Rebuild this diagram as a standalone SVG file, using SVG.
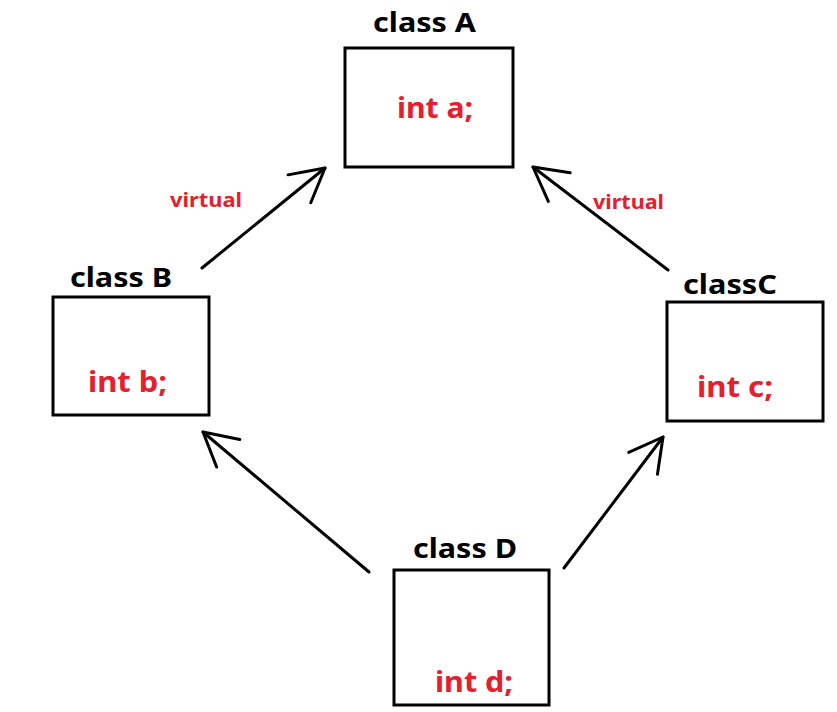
<svg xmlns="http://www.w3.org/2000/svg" width="837" height="712" viewBox="0 0 837 712">
<style>
.box{fill:#fff;stroke:#000;stroke-width:3}
.title{font-family:"Noto Sans","Liberation Sans",sans-serif;font-weight:bold;font-size:27px;fill:#000}
.mem{font-family:"Noto Sans","Liberation Sans",sans-serif;font-weight:bold;font-size:28px;fill:#e5202e}
.lbl{font-family:"Noto Sans","Liberation Sans",sans-serif;font-weight:bold;font-size:20px;fill:#e5202e}
.edge{fill:none;stroke:#000;stroke-width:3;stroke-linecap:round}
</style>
<defs>
<marker id="arr" markerUnits="userSpaceOnUse" markerWidth="80" markerHeight="80" viewBox="-40 -40 80 80" refX="0" refY="0" orient="auto" overflow="visible">
<path d="M-33,-18 L0,0 L-33,18" fill="none" stroke="#000" stroke-width="3" stroke-linecap="round" stroke-linejoin="round"/>
</marker>
</defs>
<rect width="837" height="712" fill="#fff"/>
<g id="connectors">
<line class="edge" x1="202" y1="268" x2="325" y2="168" marker-end="url(#arr)"/>
<line class="edge" x1="668" y1="270" x2="533" y2="167" marker-end="url(#arr)"/>
<line class="edge" x1="369" y1="572" x2="203" y2="432" marker-end="url(#arr)"/>
<line class="edge" x1="564" y1="568" x2="663" y2="437" marker-end="url(#arr)"/>
<text class="lbl" x="170" y="207" textLength="72" lengthAdjust="spacingAndGlyphs">virtual</text>
<text class="lbl" x="593" y="209" textLength="71" lengthAdjust="spacingAndGlyphs">virtual</text>
</g>
<g id="nodeA">
<text class="title" x="373" y="32" textLength="103" lengthAdjust="spacingAndGlyphs">class A</text>
<rect class="box" x="345" y="48" width="168" height="119"/>
<text class="mem" x="397" y="118" textLength="76" lengthAdjust="spacingAndGlyphs">int a;</text>
</g>
<g id="nodeB">
<text class="title" x="70" y="287" textLength="102" lengthAdjust="spacingAndGlyphs">class B</text>
<rect class="box" x="53" y="297" width="156" height="118"/>
<text class="mem" x="88" y="392" textLength="79" lengthAdjust="spacingAndGlyphs">int b;</text>
</g>
<g id="nodeC">
<text class="title" x="683" y="294" textLength="94" lengthAdjust="spacingAndGlyphs">classC</text>
<rect class="box" x="667" y="302" width="156" height="119"/>
<text class="mem" x="697" y="397" textLength="76" lengthAdjust="spacingAndGlyphs">int c;</text>
</g>
<g id="nodeD">
<text class="title" x="413" y="558" textLength="104" lengthAdjust="spacingAndGlyphs">class D</text>
<rect class="box" x="394" y="570" width="155" height="135"/>
<text class="mem" x="435" y="692" textLength="78" lengthAdjust="spacingAndGlyphs">int d;</text>
</g>
</svg>
